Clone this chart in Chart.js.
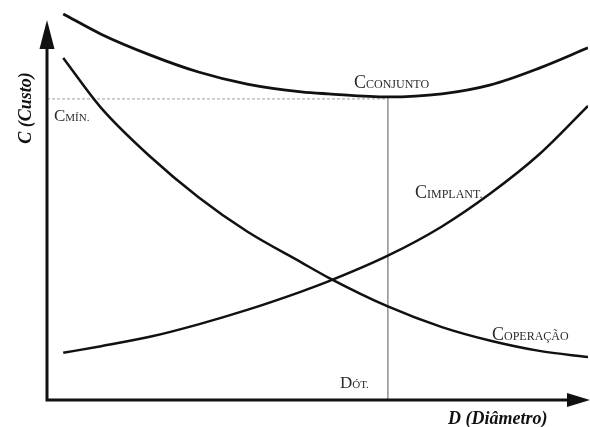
<!doctype html>
<html lang="pt">
  <head>
    <meta charset="utf-8">
    <title>Custo x Diâmetro</title>
    <style>
      * { margin: 0; padding: 0; }
      body { background: #fff; }
      .chartBox { width: 590px; height: 427px; position: relative; }
    </style>
  </head>
  <body>
    <div class="chartBox">
      <canvas id="myChart"></canvas>
    </div>
    <script src="https://cdn.jsdelivr.net/npm/chart.js"></script>
    <script>
    // data (D = diâmetro, C = custo, arbitrary units 0-100)
    const diametro   = [3, 10, 19, 28, 37, 47, 52, 63, 73, 82, 91, 100];
    const cConjunto  = [99.0, 93.8, 88.5, 84.1, 81.0, 79.0, 78.5, 77.7, 78.5, 80.8, 85.1, 90.3];
    const cOperacao  = [87.7, 74.9, 62.5, 52.0, 43.2, 35.3, 31.4, 24.0, 18.7, 15.2, 12.6, 11.0];
    const cImplant   = [12.1, 13.8, 16.2, 19.4, 23.1, 27.8, 30.4, 37.0, 44.5, 53.0, 63.0, 75.4];
    const cMin = 77.2;
    const dOtimo = 63;

    const toPoints = (ys) => diametro.map((d, i) => ({ x: d, y: ys[i] }));

    const serif = '"Liberation Serif", "DejaVu Serif", serif';

    // C + small caps subscript
    function subLabel(ctx, x, y, sub, big, small) {
      ctx.font = big + 'px ' + serif;
      ctx.fillText(sub[0], x, y);
      const w = ctx.measureText(sub[0]).width;
      ctx.font = small + 'px ' + serif;
      ctx.fillText(sub[1], x + w, y);
    }

    const axesPlugin = {
      id: 'axesPlugin',
      afterDatasetsDraw(chart) {
        const ctx = chart.ctx;
        const xs = chart.scales.x, ys = chart.scales.y;
        const x0 = xs.getPixelForValue(0);
        const y0 = ys.getPixelForValue(0);
        const top = chart.chartArea.top + 10;
        const right = chart.chartArea.right + 2;
        ctx.save();
        ctx.strokeStyle = '#111';
        ctx.fillStyle = '#111';
        ctx.lineWidth = 3;
        ctx.beginPath();
        ctx.moveTo(x0, top + 20);
        ctx.lineTo(x0, y0);
        ctx.lineTo(right - 18, y0);
        ctx.stroke();
        // arrow heads
        ctx.beginPath();
        ctx.moveTo(x0, top);
        ctx.lineTo(x0 - 7.5, top + 29);
        ctx.lineTo(x0 + 7.5, top + 29);
        ctx.closePath();
        ctx.fill();
        ctx.beginPath();
        ctx.moveTo(right, y0);
        ctx.lineTo(right - 23, y0 - 7);
        ctx.lineTo(right - 23, y0 + 7);
        ctx.closePath();
        ctx.fill();

        // labels
        ctx.fillStyle = '#2a2a2a';
        ctx.textBaseline = 'alphabetic';
        ctx.textAlign = 'left';
        subLabel(ctx, 354, 88, ['C', 'CONJUNTO'], 18, 12);
        subLabel(ctx, 54, 121, ['C', 'MÍN.'], 17, 11);
        subLabel(ctx, 415, 198, ['C', 'IMPLANT.'], 18, 12);
        subLabel(ctx, 492, 340, ['C', 'OPERAÇÃO'], 18, 12);
        subLabel(ctx, 340, 388, ['D', 'ÓT.'], 17, 11);

        // axis titles
        ctx.fillStyle = '#111';
        ctx.font = 'italic bold 18px ' + serif;
        ctx.textAlign = 'left';
        ctx.fillText('D (Diâmetro)', 448, 424);
        ctx.save();
        ctx.translate(31, 108);
        ctx.rotate(-Math.PI / 2);
        ctx.textAlign = 'center';
        ctx.fillText('C (Custo)', 0, 0);
        ctx.restore();
        ctx.restore();
      }
    };

    const curve = (label, ys, w) => ({
      label,
      data: toPoints(ys),
      borderColor: '#111',
      borderWidth: w,
      pointRadius: 0,
      cubicInterpolationMode: 'monotone',
      fill: false
    });

    const data = {
      datasets: [
        curve('C conjunto', cConjunto, 2.8),
        curve('C operação', cOperacao, 2.5),
        curve('C implant.', cImplant, 2.5),
        {
          label: 'C mín.',
          data: [{ x: 0, y: cMin }, { x: dOtimo, y: cMin }],
          borderColor: '#a0a0a0',
          borderWidth: 1,
          borderDash: [3, 2],
          pointRadius: 0
        },
        {
          label: 'D ót.',
          data: [{ x: dOtimo, y: cMin + 0.5 }, { x: dOtimo, y: 0 }],
          borderColor: '#9a9a9a',
          borderWidth: 1,
          pointRadius: 0
        }
      ]
    };

    const config = {
      type: 'line',
      data,
      options: {
        responsive: true,
        maintainAspectRatio: false,
        animation: false,
        layout: { padding: { left: 47, right: 2, top: 10, bottom: 27 } },
        plugins: {
          legend: { display: false },
          tooltip: { enabled: false }
        },
        scales: {
          x: { type: 'linear', min: 0, max: 100, display: false },
          y: { min: 0, max: 100, display: false }
        }
      },
      plugins: [axesPlugin]
    };

    const myChart = new Chart(document.getElementById('myChart'), config);
    </script>
  </body>
</html>
